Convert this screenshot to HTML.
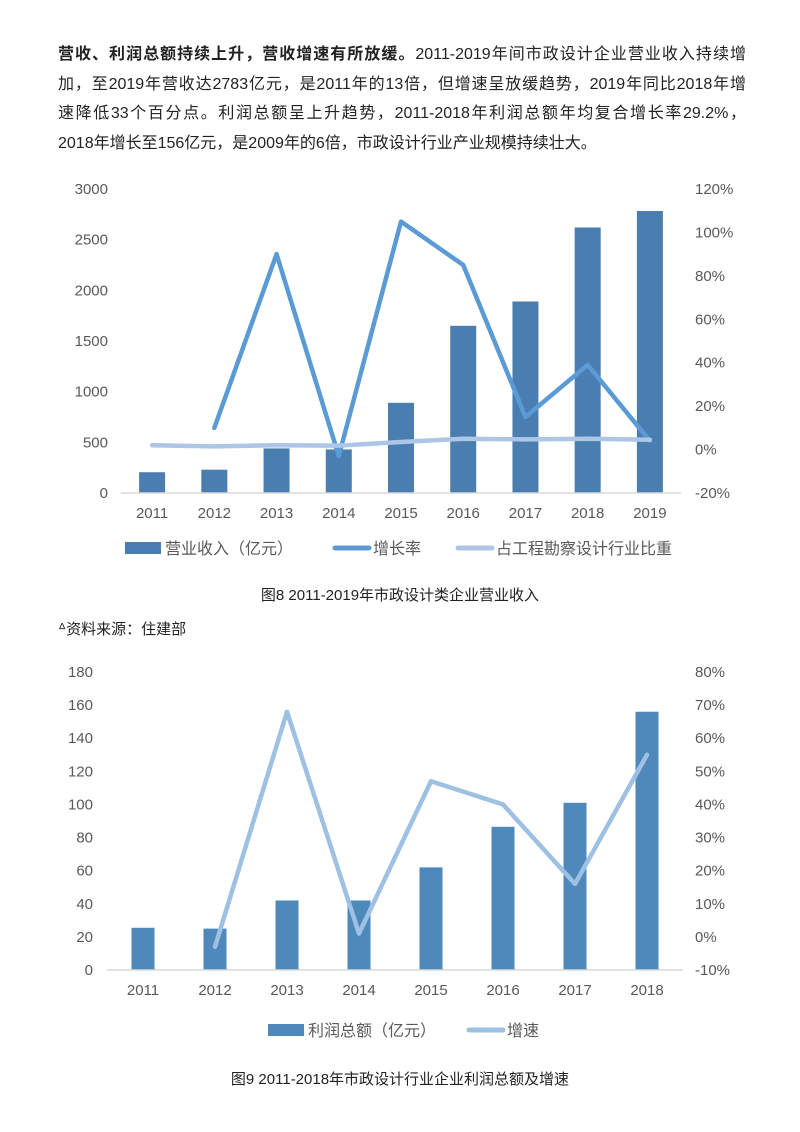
<!DOCTYPE html>
<html><head><meta charset="utf-8"><style>
body{margin:0;background:#fff;width:800px;height:1132px;overflow:hidden;font-family:"Liberation Sans","Noto Sans CJK SC",sans-serif;}
.p{position:absolute;left:58px;width:688px;font-size:16px;color:#222;line-height:29.5px;text-align:justify;text-align-last:justify;white-space:nowrap}
.cap{position:absolute;width:800px;text-align:center;font-size:15px;color:#222}
svg{position:absolute;left:0;top:0}
</style></head><body>
<div>
<div class="p" style="top:40px"><b>营收、利润总额持续上升，营收增速有所放缓。</b>2011-2019年间市政设计企业营业收入持续增</div>
<div class="p" style="top:70px">加，至2019年营收达2783亿元，是2011年的13倍，但增速呈放缓趋势，2019年同比2018年增</div>
<div class="p" style="top:99px">速降低33个百分点。利润总额呈上升趋势，2011-2018年利润总额年均复合增长率29.2%，</div>
<div class="p" style="top:129px;text-align-last:left">2018年增长至156亿元，是2009年的6倍，市政设计行业产业规模持续壮大。</div>
</div>
<div class="cap" style="top:584px">图8 2011-2019年市政设计类企业营业收入</div>
<div class="cap" style="top:618px;left:58px;width:auto;text-align:left">ᐞ资料来源：住建部</div>
<div class="cap" style="top:1068px">图9 2011-2018年市政设计行业企业利润总额及增速</div>
<svg id="svg" width="800" height="1132"></svg>
<script>
const years1=["2011","2012","2013","2014","2015","2016","2017","2018","2019"];
const revenue=[205,230,440,430,890,1650,1890,2620,2783];
const growth1=[null,10,90,-3,105,85,15,39,4];
const share1=[2,1.5,2,1.8,3.5,5,4.7,5,4.5];
const leftTicks1=[0,500,1000,1500,2000,2500,3000];
const rightTicks1=[-20,0,20,40,60,80,100,120];
const years2=["2011","2012","2013","2014","2015","2016","2017","2018"];
const profit=[25.5,25,42,42,62,86.5,101,156];
const growth2=[null,-3,68,1,47,40,16,55];
const leftTicks2=[0,20,40,60,80,100,120,140,160,180];
const rightTicks2=[-10,0,10,20,30,40,50,60,70,80];

const NS="http://www.w3.org/2000/svg";
const svg=document.getElementById('svg');
function mk(t,a,txt){const e=document.createElementNS(NS,t);for(const k in a)e.setAttribute(k,a[k]);if(txt!=null)e.textContent=txt;svg.appendChild(e);return e;}
const TC="#595959";
function chart(o){
  const n=o.cats.length,step=(o.x1-o.x0)/n;
  const xc=i=>o.x0+step*(i+0.5);
  const yl=v=>o.yb-(v-o.lmin)/(o.lmax-o.lmin)*(o.yb-o.yt);
  const yr=v=>o.yb-(v-o.rmin)/(o.rmax-o.rmin)*(o.yb-o.yt);
  o.lt.forEach(v=>{const e=mk('text',{x:o.lx,y:yl(v)+5,'text-anchor':'end','font-size':15,fill:TC},v);
    
    });
  o.rt.forEach(v=>{const e=mk('text',{x:o.rx,y:yr(v)+5,'font-size':15,fill:TC},v+'%');
    
    });
  o.cats.forEach((c,i)=>{const e=mk('text',{x:xc(i),y:o.yb+25,'text-anchor':'middle','font-size':15,fill:TC},c);
    
    });
  o.bars.forEach((v,i)=>{const e=mk('rect',{x:xc(i)-o.bw/2,y:yl(v),width:o.bw,height:o.yb-yl(v),fill:o.bc});
    
    });
  const ax=mk('line',{x1:o.x0,x2:o.x1,y1:o.yb,y2:o.yb,stroke:'#d9d9d9','stroke-width':1.5});
  
  
  o.lines.forEach(L=>{let d='';L.v.forEach((v,i)=>{if(v==null)return;d+=(d?'L':'M')+xc(i)+' '+yr(v);});
    const e=mk('path',{d:d,fill:'none',stroke:L.c,'stroke-width':4.5,'stroke-linejoin':'round','stroke-linecap':'round'});
    
    });
}
chart({cats:years1,x0:121,x1:681,yt:189,yb:493,lmin:0,lmax:3000,rmin:-20,rmax:120,lx:108,rx:695,lt:leftTicks1,rt:rightTicks1,bars:revenue,bw:26,bc:'#4a7db0',
  lines:[{v:growth1,c:'#5b9bd5',name:'growth-rate-line'},{v:share1,c:'#adc6e5',name:'share-line'}]});
chart({cats:years2,x0:107,x1:683,yt:672,yb:970,lmin:0,lmax:180,rmin:-10,rmax:80,lx:93,rx:695,lt:leftTicks2,rt:rightTicks2,bars:profit,bw:23,bc:'#4f88bb',
  lines:[{v:growth2,c:'#9dc0e3',name:'profit-growth-line'}]});
function leg(x,y,kind,c,label,name){
  let m;
  if(kind==='bar')m=mk('rect',{x:x,y:y-6,width:36,height:12,fill:c});
  else m=mk('line',{x1:x+2,x2:x+36,y1:y,y2:y,stroke:c,'stroke-width':5,'stroke-linecap':'round'});
  
  
  const t=mk('text',{x:x+40,y:y+6,'font-size':16,fill:TC},label);
  
  
}
leg(125,548,'bar','#4a7db0','营业收入（亿元）','legend-revenue');
leg(333,548,'line','#5b9bd5','增长率','legend-growth');
leg(456,548,'line','#adc6e5','占工程勘察设计行业比重','legend-share');
leg(268,1030,'bar','#4f88bb','利润总额（亿元）','legend-profit');
leg(467,1030,'line','#9dc0e3','增速','legend-profit-growth');
</script>
</body></html>
